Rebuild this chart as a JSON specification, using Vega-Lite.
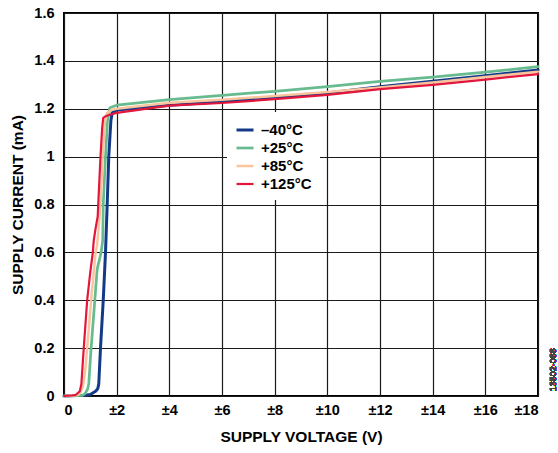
{
  "$schema": "https://vega.github.io/schema/vega-lite/v6.json",
  "width": 474,
  "height": 383,
  "autosize": "none",
  "padding": {"left": 64, "top": 13, "right": 20, "bottom": 57},
  "background": "white",
  "config": {
    "font": "Liberation Sans",
    "view": {"stroke": "black", "strokeWidth": 2},
    "axis": {
      "grid": true, "gridColor": "#1a1a1a", "gridWidth": 1.2, "gridOpacity": 1,
      "domain": false, "ticks": false,
      "labelFont": "Liberation Sans", "labelFontSize": 14.5, "labelFontWeight": "bold", "labelColor": "black",
      "titleFont": "Liberation Sans", "titleFontSize": 15.5, "titleFontWeight": "bold", "titleColor": "black"
    }
  },
  "data": {"values": [
    {"s": "–40°C", "v": 0, "i": 0},
    {"s": "–40°C", "v": 0.8, "i": 0.003},
    {"s": "–40°C", "v": 1.0, "i": 0.006},
    {"s": "–40°C", "v": 1.2, "i": 0.02},
    {"s": "–40°C", "v": 1.28, "i": 0.03},
    {"s": "–40°C", "v": 1.32, "i": 0.05},
    {"s": "–40°C", "v": 1.386, "i": 0.2},
    {"s": "–40°C", "v": 1.49, "i": 0.4},
    {"s": "–40°C", "v": 1.576, "i": 0.6},
    {"s": "–40°C", "v": 1.64, "i": 0.8},
    {"s": "–40°C", "v": 1.70, "i": 1.0},
    {"s": "–40°C", "v": 1.78, "i": 1.15},
    {"s": "–40°C", "v": 1.83, "i": 1.183},
    {"s": "–40°C", "v": 2, "i": 1.195},
    {"s": "–40°C", "v": 4, "i": 1.215},
    {"s": "–40°C", "v": 6, "i": 1.229},
    {"s": "–40°C", "v": 8, "i": 1.245},
    {"s": "–40°C", "v": 10, "i": 1.266},
    {"s": "–40°C", "v": 12, "i": 1.292},
    {"s": "–40°C", "v": 14, "i": 1.315},
    {"s": "–40°C", "v": 16, "i": 1.338},
    {"s": "–40°C", "v": 18, "i": 1.362},
    {"s": "+25°C", "v": 0, "i": 0},
    {"s": "+25°C", "v": 0.7, "i": 0.003},
    {"s": "+25°C", "v": 0.8, "i": 0.01},
    {"s": "+25°C", "v": 0.9, "i": 0.03},
    {"s": "+25°C", "v": 0.94, "i": 0.05},
    {"s": "+25°C", "v": 1.03, "i": 0.2},
    {"s": "+25°C", "v": 1.17, "i": 0.4},
    {"s": "+25°C", "v": 1.26, "i": 0.53},
    {"s": "+25°C", "v": 1.41, "i": 0.6},
    {"s": "+25°C", "v": 1.47, "i": 0.65},
    {"s": "+25°C", "v": 1.49, "i": 0.8},
    {"s": "+25°C", "v": 1.576, "i": 1.0},
    {"s": "+25°C", "v": 1.65, "i": 1.15},
    {"s": "+25°C", "v": 1.74, "i": 1.204},
    {"s": "+25°C", "v": 2, "i": 1.215},
    {"s": "+25°C", "v": 4, "i": 1.238},
    {"s": "+25°C", "v": 6, "i": 1.256},
    {"s": "+25°C", "v": 8, "i": 1.273},
    {"s": "+25°C", "v": 10, "i": 1.292},
    {"s": "+25°C", "v": 12, "i": 1.314},
    {"s": "+25°C", "v": 14, "i": 1.332},
    {"s": "+25°C", "v": 16, "i": 1.353},
    {"s": "+25°C", "v": 18, "i": 1.376},
    {"s": "+85°C", "v": 0, "i": 0},
    {"s": "+85°C", "v": 0.5, "i": 0.003},
    {"s": "+85°C", "v": 0.6, "i": 0.01},
    {"s": "+85°C", "v": 0.72, "i": 0.04},
    {"s": "+85°C", "v": 0.8, "i": 0.1},
    {"s": "+85°C", "v": 0.88, "i": 0.2},
    {"s": "+85°C", "v": 1.03, "i": 0.4},
    {"s": "+85°C", "v": 1.2, "i": 0.6},
    {"s": "+85°C", "v": 1.26, "i": 0.63},
    {"s": "+85°C", "v": 1.386, "i": 0.8},
    {"s": "+85°C", "v": 1.47, "i": 1.0},
    {"s": "+85°C", "v": 1.55, "i": 1.14},
    {"s": "+85°C", "v": 1.62, "i": 1.18},
    {"s": "+85°C", "v": 1.8, "i": 1.195},
    {"s": "+85°C", "v": 2, "i": 1.2},
    {"s": "+85°C", "v": 4, "i": 1.225},
    {"s": "+85°C", "v": 6, "i": 1.238},
    {"s": "+85°C", "v": 8, "i": 1.253},
    {"s": "+85°C", "v": 10, "i": 1.27},
    {"s": "+85°C", "v": 12, "i": 1.289},
    {"s": "+85°C", "v": 14, "i": 1.31},
    {"s": "+85°C", "v": 16, "i": 1.333},
    {"s": "+85°C", "v": 18, "i": 1.355},
    {"s": "+125°C", "v": 0, "i": 0},
    {"s": "+125°C", "v": 0.3, "i": 0.002},
    {"s": "+125°C", "v": 0.45, "i": 0.005},
    {"s": "+125°C", "v": 0.6, "i": 0.02},
    {"s": "+125°C", "v": 0.66, "i": 0.05},
    {"s": "+125°C", "v": 0.75, "i": 0.2},
    {"s": "+125°C", "v": 0.88, "i": 0.4},
    {"s": "+125°C", "v": 1.0, "i": 0.52},
    {"s": "+125°C", "v": 1.095, "i": 0.6},
    {"s": "+125°C", "v": 1.13, "i": 0.65},
    {"s": "+125°C", "v": 1.2, "i": 0.7},
    {"s": "+125°C", "v": 1.28, "i": 0.75},
    {"s": "+125°C", "v": 1.3, "i": 0.8},
    {"s": "+125°C", "v": 1.386, "i": 1.0},
    {"s": "+125°C", "v": 1.45, "i": 1.12},
    {"s": "+125°C", "v": 1.49, "i": 1.162},
    {"s": "+125°C", "v": 1.6, "i": 1.17},
    {"s": "+125°C", "v": 1.8, "i": 1.177},
    {"s": "+125°C", "v": 2, "i": 1.183},
    {"s": "+125°C", "v": 4, "i": 1.213},
    {"s": "+125°C", "v": 6, "i": 1.224},
    {"s": "+125°C", "v": 8, "i": 1.24},
    {"s": "+125°C", "v": 10, "i": 1.258},
    {"s": "+125°C", "v": 12, "i": 1.282},
    {"s": "+125°C", "v": 14, "i": 1.3},
    {"s": "+125°C", "v": 16, "i": 1.322},
    {"s": "+125°C", "v": 18, "i": 1.345}
  ]},
  "layer": [
    {
      "mark": {"type": "line", "strokeJoin": "round", "strokeCap": "round"},
      "encoding": {
        "x": {
          "field": "v", "type": "quantitative",
          "scale": {"domain": [0, 18], "nice": false, "zero": false},
          "axis": {
            "values": [0, 2, 4, 6, 8, 10, 12, 14, 16, 18],
            "labelExpr": "datum.value == 0 ? '0' : '±' + datum.value",
            "labelPadding": 7,
            "title": "SUPPLY VOLTAGE (V)",
            "titlePadding": 13
          }
        },
        "y": {
          "field": "i", "type": "quantitative",
          "scale": {"domain": [0, 1.6], "nice": false},
          "axis": {
            "values": [0, 0.2, 0.4, 0.6, 0.8, 1, 1.2, 1.4, 1.6],
            "format": "~g",
            "labelPadding": 10,
            "title": "SUPPLY CURRENT (mA)",
            "titlePadding": 8
          }
        },
        "color": {
          "field": "s", "type": "nominal",
          "sort": ["–40°C", "+25°C", "+85°C", "+125°C"],
          "scale": {
            "domain": ["–40°C", "+25°C", "+85°C", "+125°C"],
            "range": ["#143a87", "#68bb8f", "#fcc49d", "#e3163c"]
          },
          "legend": {
            "title": null,
            "orient": "none",
            "legendX": 163,
            "legendY": 99,
            "fillColor": "white",
            "padding": 8,
            "symbolType": "stroke",
            "symbolSize": 289,
            "symbolStrokeWidth": 3,
            "labelFont": "Liberation Sans",
            "labelFontSize": 15,
            "labelFontWeight": "bold",
            "labelColor": "black",
            "labelOffset": 6,
            "rowPadding": 0
          }
        },
        "strokeWidth": {
          "field": "s", "type": "nominal",
          "scale": {"domain": ["–40°C", "+25°C", "+85°C", "+125°C"], "range": [3, 2.2, 2.2, 2]},
          "legend": null
        },
        "order": {"field": "v", "type": "quantitative"}
      }
    },
    {
      "mark": {"type": "text", "text": "13502-066", "angle": 270, "fontSize": 9, "fontWeight": "normal", "color": "#444444", "align": "center", "baseline": "middle", "dy": 15, "font": "Liberation Sans"},
      "encoding": {
        "x": {"datum": 18, "type": "quantitative"},
        "y": {"datum": 0.11, "type": "quantitative"}
      }
    }
  ]
}
